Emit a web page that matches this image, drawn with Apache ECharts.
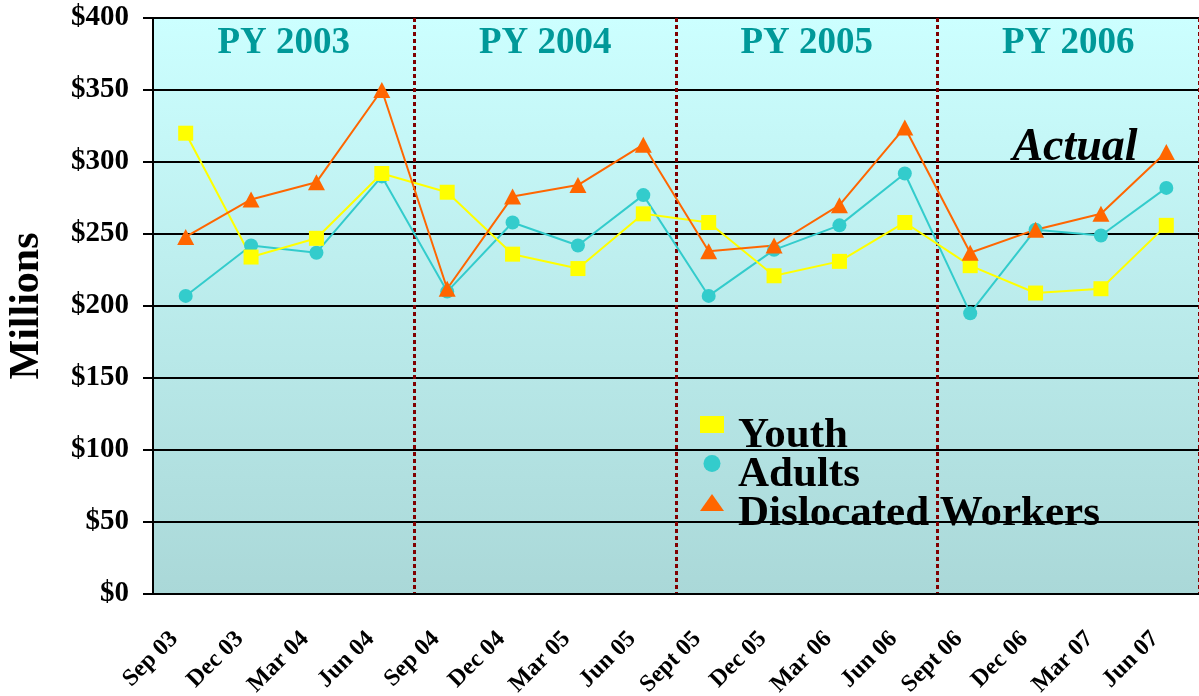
<!DOCTYPE html>
<html>
<head>
<meta charset="utf-8">
<script src="https://cdn.jsdelivr.net/npm/echarts@6/dist/echarts.min.js"></script>
<style>
html,body{margin:0;padding:0;background:#fff;}
#main{width:1199px;height:696px;}
</style>
</head>
<body>
<div id="main"></div>
<script>
var quarters = ['Sep 03','Dec 03','Mar 04','Jun 04','Sep 04','Dec 04','Mar 05','Jun 05',
                'Sept 05','Dec 05','Mar 06','Jun 06','Sept 06','Dec 06','Mar 07','Jun 07'];
var youth = [320, 234, 247, 292, 279, 236, 226, 264, 258, 221, 231, 258, 228, 209, 212, 256];
var adults = [207, 242, 237, 290, 210, 258, 242, 277, 207, 239, 256, 292, 195, 253, 249, 282];
var dislocated = [248, 274, 286, 350, 212, 276, 284, 312, 238, 242, 270, 324, 237, 253, 264, 307];
var programYears = ['PY 2003', 'PY 2004', 'PY 2005', 'PY 2006'];

var serif = "'Liberation Serif', 'Times New Roman', serif";

var myChart = echarts.init(document.getElementById('main'));

var option = {
    animation: false,
    grid: {
        left: 153, right: 0, top: 18, bottom: 102,
        containLabel: false,
        outerBoundsMode: 'none',
        show: true,
        borderWidth: 0,
        backgroundColor: new echarts.graphic.LinearGradient(0, 0, 0, 1, [
            {offset: 0, color: '#ccffff'},
            {offset: 1, color: '#aad8d8'}
        ])
    },
    legend: {
        orient: 'vertical',
        left: 700,
        top: 414,
        padding: 0,
        itemGap: -4,
        itemWidth: 24,
        itemHeight: 17,
        formatter: function (name) { return '{sp| }{t|' + name + '}'; },
        textStyle: {
            rich: {
                sp: {width: 9, height: 65, fontSize: 10},
                t: {
                    verticalAlign: 'bottom',
                    fontFamily: serif,
                    fontWeight: 'bold',
                    fontSize: 43,
                    color: '#000'
                }
            }
        },
        data: [
            {name: 'Youth', icon: 'rect'},
            {name: 'Adults', icon: 'circle'},
            {name: 'Dislocated Workers', icon: 'triangle'}
        ]
    },
    xAxis: {
        type: 'category',
        data: quarters,
        boundaryGap: true,
        axisLine: {lineStyle: {color: '#000', width: 2}},
        axisTick: {length: 9, lineStyle: {color: '#000', width: 2}},
        axisLabel: {
            rotate: 45,
            margin: 30,
            interval: 0,
            padding: [0, 16, 0, 0],
            fontFamily: serif,
            fontWeight: 'bold',
            fontSize: 24,
            color: '#000'
        },
        splitLine: {
            show: true,
            interval: function (index) { return index > 0 && index % 4 === 0; },
            lineStyle: {color: '#800000', width: 3, type: [4, 3]}
        }
    },
    yAxis: {
        type: 'value',
        min: 0,
        max: 400,
        interval: 50,
        name: 'Millions',
        nameLocation: 'middle',
        nameRotate: 90,
        nameGap: 105,
        nameTextStyle: {
            fontFamily: serif,
            fontWeight: 'bold',
            fontSize: 42,
            color: '#000'
        },
        axisLine: {show: true, lineStyle: {color: '#000', width: 2}},
        axisTick: {show: true, length: 10, lineStyle: {color: '#000', width: 2}},
        axisLabel: {
            margin: 24,
            fontFamily: serif,
            fontWeight: 'bold',
            fontSize: 29,
            color: '#000',
            formatter: function (v) { return '$' + v; }
        },
        splitLine: {lineStyle: {color: '#000', width: 2}}
    },
    series: [
        {
            name: 'Adults',
            type: 'line',
            data: adults,
            symbol: 'circle',
            symbolSize: 14,
            color: '#33cccc',
            lineStyle: {width: 2}
        },
        {
            name: 'Youth',
            type: 'line',
            data: youth,
            symbol: 'rect',
            symbolSize: 15,
            color: '#ffff00',
            lineStyle: {width: 2}
        },
        {
            name: 'Dislocated Workers',
            type: 'line',
            data: dislocated,
            symbol: 'triangle',
            symbolSize: [17, 16],
            color: '#ff6600',
            lineStyle: {width: 2}
        }
    ]
};
myChart.setOption(option);

// period titles centred between the dotted boundaries
var texts = [];
for (var i = 0; i < programYears.length; i++) {
    var a = myChart.convertToPixel({xAxisIndex: 0}, quarters[i * 4 + 1]);
    var b = myChart.convertToPixel({xAxisIndex: 0}, quarters[i * 4 + 2]);
    texts.push({
        type: 'text',
        x: (a + b) / 2,
        y: 43,
        style: {
            text: programYears[i],
            fill: '#009999',
            font: 'bold 37px ' + serif,
            textAlign: 'center',
            textVerticalAlign: 'middle'
        },
        z: 10
    });
}
texts.push({
    type: 'text',
    x: 1075,
    y: 148,
    style: {
        text: 'Actual',
        fill: '#000',
        font: 'italic bold 46px ' + serif,
        textAlign: 'center',
        textVerticalAlign: 'middle'
    },
    z: 10
});
myChart.setOption({graphic: texts});
</script>
</body>
</html>
